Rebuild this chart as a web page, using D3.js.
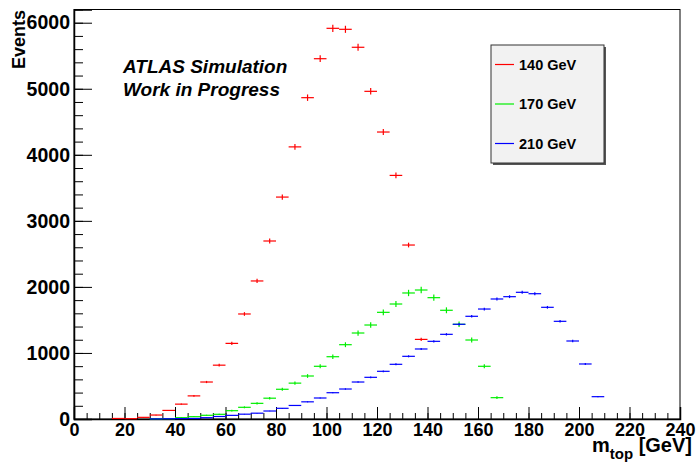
<!DOCTYPE html>
<html>
<head>
<meta charset="utf-8">
<script src="https://cdn.jsdelivr.net/npm/d3@7"></script>
<style>
  body { margin: 0; background: #fff; }
  text { font-family: "Liberation Sans", Arial, Helvetica, sans-serif; font-weight: bold; }
</style>
</head>
<body>
<svg id="chart" width="696" height="462"></svg>
<script>
// bin centres of the m_top histogram (5 GeV bins)
const binCenters = [17.5, 22.5, 27.5, 32.5, 37.5, 42.5, 47.5, 52.5, 57.5, 62.5,
    67.5, 72.5, 77.5, 82.5, 87.5, 92.5, 97.5, 102.5, 107.5, 112.5,
    117.5, 122.5, 127.5, 132.5, 137.5, 142.5, 147.5, 152.5, 157.5, 162.5,
    167.5, 172.5, 177.5, 182.5, 187.5, 192.5, 197.5, 202.5, 207.5];
const binWidth = 5;

const events140 = [8, 5, 25, 60, 130, 225, 350, 560, 815, 1145,
    1590, 2090, 2695, 3360, 4120, 4865, 5455, 5915, 5900, 5628,
    4961, 4345, 3688, 2634, 1205, 0, 0, 0, 0, 0,
    0, 0, 0, 0, 0, 0, 0, 0, 0];
const events170 = [0, 0, 0, 3, 5, 20, 35, 56, 71, 126,
    177, 237, 315, 450, 543, 651, 798, 943, 1125, 1302,
    1423, 1615, 1741, 1908, 1953, 1837, 1646, 1434, 1196, 798,
    323, 0, 0, 0, 0, 0, 0, 0, 0];
const events210 = [0, 0, 0, 2, 4, 6, 8, 20, 38, 55,
    73, 88, 121, 162, 205, 260, 318, 398, 454, 560,
    631, 722, 828, 949, 1060, 1176, 1282, 1434, 1555, 1665,
    1817, 1852, 1918, 1897, 1691, 1479, 1181, 833, 338];

const seriesNames = ['140 GeV', '170 GeV', '210 GeV'];
const seriesColors = ['#ff0000', '#00ee00', '#0000ff'];
const errorScale = [0.7, 1.1, 0.5];

const xTickValues = d3.range(0, 241, 20);
const yTickValues = d3.range(0, 6001, 1000);

const svg = d3.select('#chart');
const width = +svg.attr('width');
const height = +svg.attr('height');
const margin = { top: 9.5, right: 16, bottom: 43, left: 74 };
const innerWidth = width - margin.left - margin.right;
const innerHeight = height - margin.top - margin.bottom;

const xScale = d3.scaleLinear().domain([0, 240]).range([0, innerWidth]);
const yScale = d3.scaleLinear().domain([0, 6200]).range([innerHeight, 0]);

const g = svg.append('g')
    .attr('transform', `translate(${margin.left}, ${margin.top})`);

// frame
g.append('rect')
    .attr('width', innerWidth)
    .attr('height', innerHeight)
    .attr('fill', 'none')
    .attr('stroke', '#000')
    .attr('stroke-width', 1);

// minor ticks
g.append('g')
    .attr('transform', `translate(0, ${innerHeight})`)
    .call(d3.axisBottom(xScale).tickValues(d3.range(0, 241, 5)).tickSize(-6).tickFormat(''))
    .call(a => a.select('.domain').remove());
g.append('g')
    .call(d3.axisLeft(yScale).tickValues(d3.range(0, 6201, 200)).tickSize(-9).tickFormat(''))
    .call(a => a.select('.domain').remove());

// major ticks + labels
const xAxisG = g.append('g')
    .attr('transform', `translate(0, ${innerHeight})`)
    .call(d3.axisBottom(xScale).tickValues(xTickValues).tickSize(-12).tickPadding(4).tickFormat(d3.format('d')));
const yAxisG = g.append('g')
    .call(d3.axisLeft(yScale).tickValues(yTickValues).tickSize(-18).tickPadding(4).tickFormat(d3.format('d')));

[xAxisG, yAxisG].forEach((a, i) => {
    a.select('.domain').attr('stroke', '#000').attr('stroke-width', 1.5);
    a.selectAll('.tick line').attr('stroke', '#000');
    a.selectAll('.tick text')
        .attr('fill', '#000')
        .style('font-size', i === 0 ? '18px' : '19.5px')
        .style('font-family', '"Liberation Sans", Arial, sans-serif')
        .style('font-weight', 'bold');
});

// histograms as error-bar crosses
const series = [events140, events170, events210];
series.forEach((vals, i) => {
    const pts = binCenters.map((c, j) => ({ x: c, y: vals[j] })).filter(d => d.y > 0);
    const sg = g.append('g')
        .attr('stroke', seriesColors[i])
        .attr('stroke-width', 1.2);
    sg.selectAll('.h').data(pts).enter().append('line')
        .attr('x1', d => xScale(d.x - binWidth / 2))
        .attr('x2', d => xScale(d.x + binWidth / 2))
        .attr('y1', d => yScale(d.y))
        .attr('y2', d => yScale(d.y));
    sg.selectAll('.v').data(pts).enter().append('line')
        .attr('x1', d => xScale(d.x))
        .attr('x2', d => xScale(d.x))
        .attr('y1', d => yScale(d.y + errorScale[i] * Math.sqrt(d.y)))
        .attr('y2', d => yScale(Math.max(0, d.y - errorScale[i] * Math.sqrt(d.y))));
});

// axis titles
svg.append('text')
    .attr('transform', 'translate(25, 10) rotate(-90)')
    .attr('text-anchor', 'end')
    .style('font-size', '18px')
    .text('Events');

const xt = svg.append('text')
    .attr('x', 692)
    .attr('y', 452)
    .attr('text-anchor', 'end')
    .style('font-size', '20px');
xt.append('tspan').text('m');
xt.append('tspan').attr('dy', 7).style('font-size', '15px').text('top');
xt.append('tspan').attr('dy', -7).text(' [GeV]');

// ATLAS label
svg.append('text')
    .attr('x', 123)
    .attr('y', 73)
    .style('font-size', '19px')
    .style('font-style', 'italic')
    .text('ATLAS Simulation');
svg.append('text')
    .attr('x', 123)
    .attr('y', 95.5)
    .style('font-size', '19px')
    .style('font-style', 'italic')
    .text('Work in Progress');

// legend
const lg = svg.append('g').attr('transform', 'translate(491, 45)');
lg.append('rect')
    .attr('x', 2).attr('y', 2)
    .attr('width', 113).attr('height', 118)
    .attr('fill', '#555');
lg.append('rect')
    .attr('width', 113).attr('height', 118)
    .attr('fill', '#f2f2f2')
    .attr('stroke', '#333')
    .attr('stroke-width', 1);
seriesNames.forEach((name, i) => {
    const yy = 19.5 + i * 39.5;
    lg.append('line')
        .attr('x1', 4).attr('x2', 23)
        .attr('y1', yy).attr('y2', yy)
        .attr('stroke', seriesColors[i])
        .attr('stroke-width', 1.2);
    lg.append('text')
        .attr('x', 28)
        .attr('y', yy)
        .attr('dy', '0.36em')
        .style('font-size', '14.5px')
        .text(name);
});
</script>
</body>
</html>
